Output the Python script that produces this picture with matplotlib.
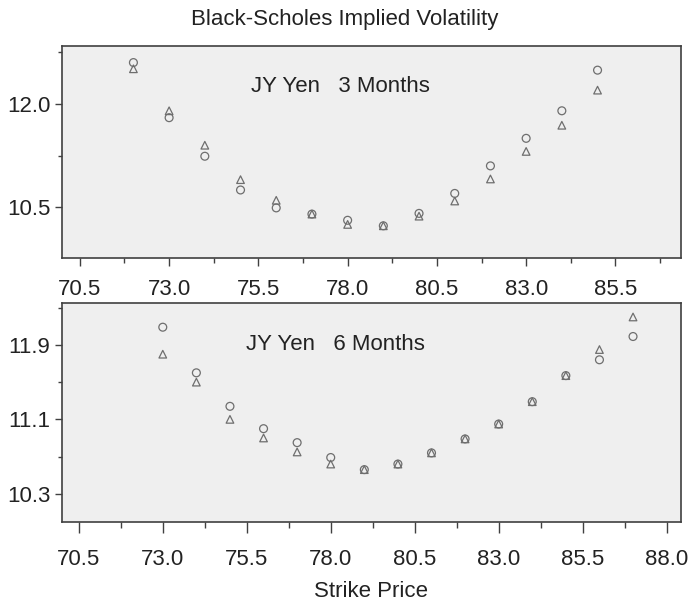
import numpy as np
import matplotlib
matplotlib.use("Agg")
import matplotlib.pyplot as plt
from matplotlib.ticker import FixedLocator, FormatStrFormatter

plt.rcParams['font.family'] = ['Liberation Sans', 'DejaVu Sans']

# 3 months
strike_3m = [72, 73, 74, 75, 76, 77, 78, 79, 80, 81, 82, 83, 84, 85]
circ_3m = [12.60, 11.80, 11.24, 10.75, 10.49, 10.40, 10.31, 10.23, 10.41, 10.70, 11.10, 11.50, 11.90, 12.49]
tri_3m = [12.51, 11.90, 11.40, 10.90, 10.60, 10.40, 10.25, 10.23, 10.37, 10.59, 10.91, 11.31, 11.69, 12.20]

# 6 months
strike_6m = [73, 74, 75, 76, 77, 78, 79, 80, 81, 82, 83, 84, 85, 86, 87]
circ_6m = [12.09, 11.60, 11.24, 11.00, 10.85, 10.69, 10.56, 10.62, 10.74, 10.89, 11.05, 11.29, 11.57, 11.74, 11.99]
tri_6m = [11.80, 11.50, 11.10, 10.90, 10.75, 10.62, 10.56, 10.62, 10.74, 10.89, 11.05, 11.29, 11.57, 11.85, 12.20]

xticks_3m = [70.5, 73.0, 75.5, 78.0, 80.5, 83.0, 85.5]
xticks_6m = [70.5, 73.0, 75.5, 78.0, 80.5, 83.0, 85.5, 88.0]
yticks_3m = [10.5, 12.0]
yticks_6m = [10.3, 11.1, 11.9]

mcol = '#6e6e6e'
tcol = '#222222'
fig = plt.figure(figsize=(6.89, 6.06), dpi=100)
ax1 = fig.add_axes([0.090, 0.574, 0.898, 0.350])
ax2 = fig.add_axes([0.090, 0.139, 0.898, 0.361])


def style(ax, xlim, ylim, xt, yt, xlen, xpad):
    ax.set_facecolor('#efefef')
    ax.set_xlim(*xlim)
    ax.set_ylim(*ylim)
    ax.set_xticks(xt)
    ax.set_yticks(yt)
    xs = xt[1] - xt[0]
    ys = yt[1] - yt[0]
    ax.xaxis.set_minor_locator(FixedLocator([x + xs / 2 for x in [xt[0] - xs] + xt]))
    ax.yaxis.set_minor_locator(FixedLocator([y + ys / 2 for y in [yt[0] - ys] + yt]))
    ax.xaxis.set_major_formatter(FormatStrFormatter('%.1f'))
    ax.yaxis.set_major_formatter(FormatStrFormatter('%.1f'))
    ax.tick_params(which='both', direction='out', width=1, color='#404040',
                   labelsize=16, labelcolor=tcol)
    ax.tick_params(axis='x', which='major', length=xlen, pad=xpad)
    ax.tick_params(axis='x', which='minor', length=xlen * 0.55)
    ax.tick_params(axis='y', which='major', length=5, pad=3.5)
    ax.tick_params(axis='y', which='minor', length=3)
    for s in ax.spines.values():
        s.set_color('#404040')
        s.set_linewidth(1.2)


ax1.scatter(strike_3m, circ_3m, marker='o', s=32, facecolors='none', edgecolors=mcol, linewidths=0.9)
ax1.scatter(strike_3m, tri_3m, marker='^', s=30, facecolors='none', edgecolors=mcol, linewidths=0.9)
style(ax1, (70.0, 87.33), (9.76, 12.84), xticks_3m, yticks_3m, 6, 9)
ax1.text(0.305, 0.783, 'JY Yen   3 Months', transform=ax1.transAxes, fontsize=16, color=tcol)

ax2.scatter(strike_6m, circ_6m, marker='o', s=32, facecolors='none', edgecolors=mcol, linewidths=0.9)
ax2.scatter(strike_6m, tri_6m, marker='^', s=30, facecolors='none', edgecolors=mcol, linewidths=0.9)
style(ax2, (70.0, 88.42), (10.0, 12.35), xticks_6m, yticks_6m, 8, 11.5)
ax2.text(0.297, 0.785, 'JY Yen   6 Months', transform=ax2.transAxes, fontsize=16, color=tcol)
ax2.set_xlabel('Strike Price', fontsize=16, color=tcol, labelpad=8)

fig.suptitle('Black-Scholes Implied Volatility', fontsize=16, color=tcol, y=0.985)

fig.savefig('out.png', dpi=100)
